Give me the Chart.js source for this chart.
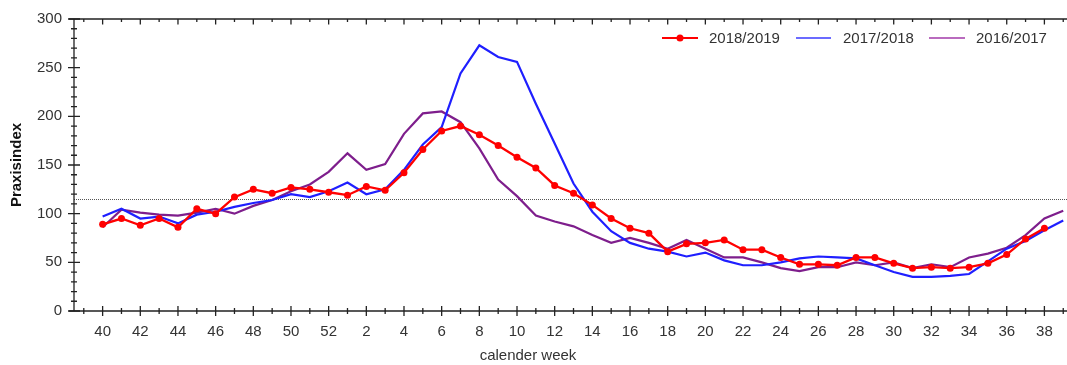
<!DOCTYPE html>
<html>
<head>
<meta charset="utf-8">
<script src="https://cdn.jsdelivr.net/npm/chart.js@4.4.1/dist/chart.umd.min.js"></script>
<style>
html,body{margin:0;padding:0;background:#fff;}
#wrap{width:1067px;height:365px;position:relative;}
</style>
</head>
<body>
<div id="wrap"><canvas id="c" width="1067" height="365"></canvas></div>
<script>
// calendar weeks (season runs week 40 .. week 39)
const weeks = [40,41,42,43,44,45,46,47,48,49,50,51,52,1,2,3,4,5,6,7,8,9,10,11,12,13,14,15,16,17,18,19,20,21,22,23,24,25,26,27,28,29,30,31,32,33,34,35,36,37,38,39];
const seriesNames = ['2018/2019','2017/2018','2016/2017'];
const s2018_2019 = [89,95,88,95,86,105,100,117,125,121,127,125,122,119,128,124,142,166,185,190,181,170,158,147,129,121,109,95,85,80,61,69,70,73,63,63,55,48,48,47,55,55,49,44,45,44,45,49,58,74,85,null];
const s2017_2018 = [97,105,95,97,90,99,102,107,111,114,120,117,123,132,120,125,145,171,189,244,273,261,256,213,172,131,102,82,70,64,61,56,60,52,47,47,50,54,56,55,54,47,40,35,35,36,38,51,64,72,83,93];
const s2016_2017 = [86,104,101,99,98,101,105,100,108,114,123,130,143,162,145,151,182,203,205,194,167,135,118,98,92,87,78,70,75,70,64,73,64,55,55,50,44,41,45,45,50,47,50,44,48,45,55,59,65,78,95,103];
const threshold = 115;
const yTickLabels = [0,50,100,150,200,250,300];

const FONT = '"Liberation Sans", Arial, sans-serif';
const COLORS = ['#ff0000', '#1f1fff', '#7e1e8c'];

const toPts = arr => arr.map((v, i) => ({x: i, y: v}));

const axesPlugin = {
  id: 'customAxes',
  beforeDatasetsDraw(chart) {
    const {ctx, chartArea: a, scales: {x, y}} = chart;
    ctx.save();
    const ty = Math.round(y.getPixelForValue(threshold)) + 0.5;
    ctx.strokeStyle = '#555';
    ctx.lineWidth = 1;
    ctx.setLineDash([1, 1]);
    ctx.beginPath();
    ctx.moveTo(a.left, ty);
    ctx.lineTo(a.right, ty);
    ctx.stroke();
    ctx.setLineDash([]);
    ctx.restore();
  },
  afterDraw(chart) {
    const {ctx, chartArea: a, scales: {x, y}} = chart;
    ctx.save();
    ctx.strokeStyle = '#222';
    ctx.lineWidth = 1.3;
    const L = a.left, T = a.top, B = a.bottom, R = a.right;
    ctx.beginPath();
    ctx.moveTo(L, T); ctx.lineTo(L, B);
    ctx.moveTo(L - 5, T); ctx.lineTo(R, T);
    ctx.moveTo(L - 5, B); ctx.lineTo(R, B);
    ctx.stroke();
    ctx.beginPath();
    for (let v = 0; v <= 300; v += 10) {
      const py = y.getPixelForValue(v);
      const major = v % 50 === 0;
      if (major) { ctx.moveTo(L - 6, py); ctx.lineTo(L + 6, py); }
      else { ctx.moveTo(L - 3, py); ctx.lineTo(L + 3, py); }
    }
    for (let i = -1; i < weeks.length; i++) {
      const px = x.getPixelForValue(i);
      const major = i % 2 === 0;
      if (major) {
        ctx.moveTo(px, B - 5); ctx.lineTo(px, B + 5);
        ctx.moveTo(px, T); ctx.lineTo(px, T + 5.5);
      } else {
        ctx.moveTo(px, B - 3); ctx.lineTo(px, B + 3);
        ctx.moveTo(px, T); ctx.lineTo(px, T + 3);
      }
    }
    ctx.stroke();

    ctx.fillStyle = '#111';
    ctx.font = 'bold 15px ' + FONT;
    ctx.save();
    ctx.translate(17, 165);
    ctx.rotate(-Math.PI / 2);
    ctx.textAlign = 'center';
    ctx.textBaseline = 'middle';
    ctx.fillText('Praxisindex', 0, 0);
    ctx.restore();
    ctx.fillStyle = '#333';
    ctx.font = '15px ' + FONT;
    ctx.textAlign = 'center';
    ctx.textBaseline = 'middle';
    ctx.fillText('calender week', 528, 356);

    const ly = 38;
    const items = [
      {x0: 662, x1: 698, tx: 709, color: COLORS[0], w: 2, dot: true},
      {x0: 796, x1: 831, tx: 843, color: '#3a3aff', w: 1.5, dot: false},
      {x0: 929, x1: 965, tx: 976, color: '#a23aa8', w: 1.5, dot: false}
    ];
    items.forEach((it, k) => {
      ctx.strokeStyle = it.color;
      ctx.lineWidth = it.w;
      ctx.beginPath();
      ctx.moveTo(it.x0, ly); ctx.lineTo(it.x1, ly);
      ctx.stroke();
      if (it.dot) {
        ctx.fillStyle = it.color;
        ctx.beginPath();
        ctx.arc((it.x0 + it.x1) / 2, ly, 3.5, 0, Math.PI * 2);
        ctx.fill();
      }
      ctx.fillStyle = '#333';
      ctx.font = '15px ' + FONT;
      ctx.textAlign = 'left';
      ctx.textBaseline = 'middle';
      ctx.fillText(seriesNames[k], it.tx, ly + 1);
    });
    ctx.restore();
  }
};

new Chart(document.getElementById('c'), {
  type: 'line',
  data: {
    datasets: [
      {label: seriesNames[0], data: toPts(s2018_2019), borderColor: COLORS[0], backgroundColor: COLORS[0], borderWidth: 2.3, pointRadius: 3.5, pointHoverRadius: 3.5, pointBorderWidth: 0, tension: 0, order: 0},
      {label: seriesNames[1], data: toPts(s2017_2018), borderColor: COLORS[1], backgroundColor: COLORS[1], borderWidth: 2.2, pointRadius: 0, tension: 0, order: 1},
      {label: seriesNames[2], data: toPts(s2016_2017), borderColor: COLORS[2], backgroundColor: COLORS[2], borderWidth: 2.2, pointRadius: 0, tension: 0, order: 2}
    ]
  },
  options: {
    responsive: false,
    animation: false,
    events: [],
    layout: {autoPadding: false, padding: {top: 19, left: 0, right: 0, bottom: 0}},
    plugins: {legend: {display: false}, tooltip: {enabled: false}, title: {display: false}},
    scales: {
      x: {
        type: 'linear',
        min: -1.52,
        max: 51.2,
        grid: {display: false, drawTicks: false},
        border: {display: false},
        afterFit: s => { s.height = 54; s.paddingLeft = 0; s.paddingRight = 0; },
        ticks: {
          stepSize: 1,
          includeBounds: false,
          autoSkip: false,
          maxRotation: 0,
          minRotation: 0,
          padding: 12,
          color: '#333',
          font: {family: FONT, size: 15},
          callback: v => (Number.isInteger(v) && v >= 0 && v % 2 === 0 && v < weeks.length) ? String(weeks[v]) : ''
        }
      },
      y: {
        min: 0,
        max: 300,
        grid: {display: false, drawTicks: false},
        border: {display: false},
        afterFit: s => { s.width = 74; s.paddingTop = 0; s.paddingBottom = 0; },
        ticks: {
          stepSize: 50,
          padding: 12,
          color: '#333',
          font: {family: FONT, size: 15},
          callback: v => yTickLabels.includes(v) ? String(v) : ''
        }
      }
    }
  },
  plugins: [axesPlugin]
});
</script>
</body>
</html>
